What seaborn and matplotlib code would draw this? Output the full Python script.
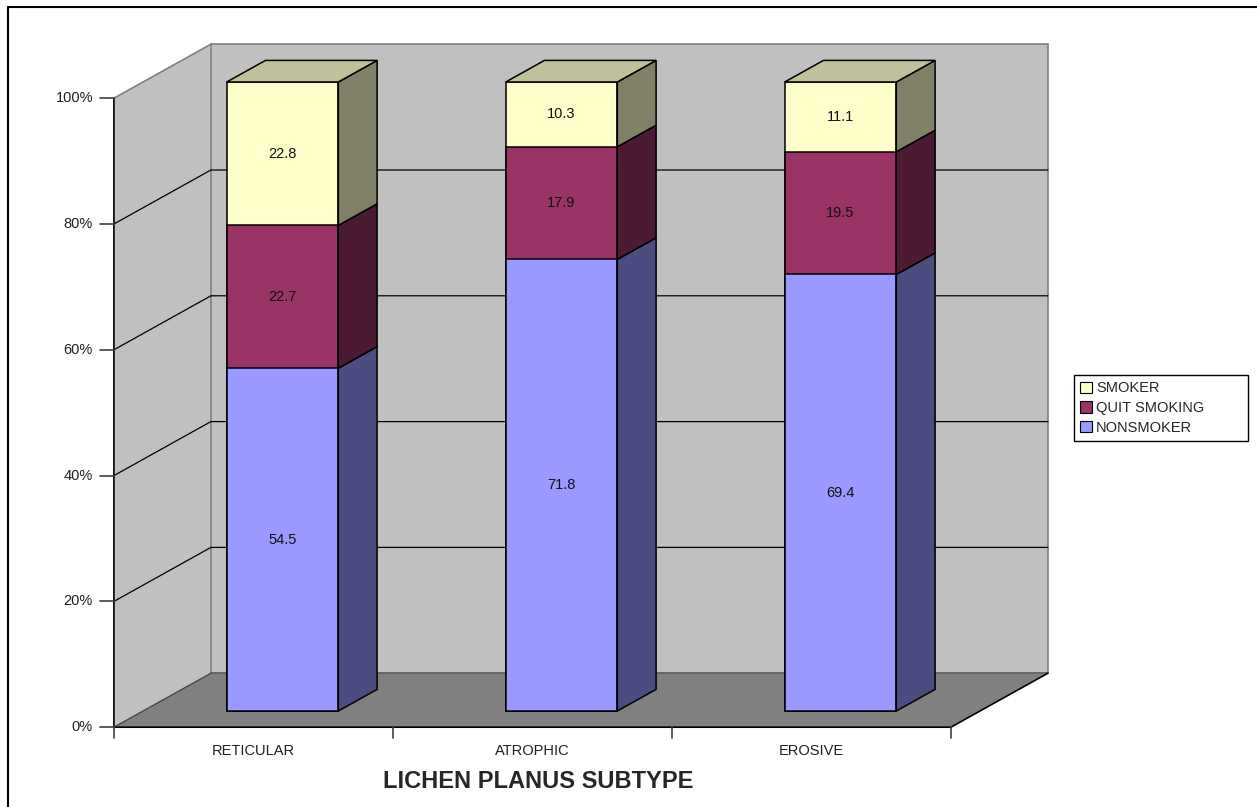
import matplotlib
matplotlib.use("Agg")
import numpy as np
import pandas as pd
import matplotlib.pyplot as plt
from matplotlib.patches import Polygon, Patch
from matplotlib.lines import Line2D
import seaborn as sns

# data
subtypes = ["RETICULAR", "ATROPHIC", "EROSIVE"]
nonsmoker = [54.5, 71.8, 69.4]
quit_smoking = [22.7, 17.9, 19.5]
smoker = [22.8, 10.3, 11.1]
series_names = ["NONSMOKER", "QUIT SMOKING", "SMOKER"]
y_ticks = [0, 20, 40, 60, 80, 100]
x_title = "LICHEN PLANUS SUBTYPE"

front_colors = ["#9999FF", "#993366", "#FFFFCC"]
side_colors = ["#4C4C80", "#4D1A33", "#808066"]
top_color = "#C0C09A"
wall_color = "#C0C0C0"
floor_color = "#808080"

sns.set_theme(style="white")
plt.rcParams["font.family"] = ["Liberation Sans", "DejaVu Sans"]

W, H = 1257, 807
fig = plt.figure(figsize=(W / 100, H / 100), dpi=100)
ax = fig.add_axes([0, 0, 1, 1])

# pixel geometry of the fake 3d box (bar front faces live in plain data coords)
X0, PX_X = 282.5, 279.0   # pixel column of category 0, px per category
Y0, PX_Y = 711.0, 6.29    # pixel row of 0% on the bar faces, px per percent
DX, DY = 97 / PX_X, 54 / PX_Y   # full depth of the box in data units
F_FRONT, F_BACK = 0.3, 0.7      # bar depth range (0 = front plane, 1 = back wall)


def P(x, y, d):
    return (x + (d - F_FRONT) * DX, y + (d - F_FRONT) * DY)


df = pd.DataFrame({"subtype": subtypes, "nonsmoker": nonsmoker,
                   "quit": quit_smoking, "smoker": smoker})
df["c1"] = df["nonsmoker"]
df["c2"] = df["c1"] + df["quit"]
df["c3"] = df["c2"] + df["smoker"]

# walls and floor
left, right = -0.5, len(subtypes) - 0.5
ax.add_patch(Polygon([P(left, 0, 0), P(left, 0, 1), P(left, 100, 1), P(left, 100, 0)],
                     closed=True, fc=wall_color, ec="none", zorder=0.2))
ax.add_patch(Polygon([P(left, 0, 1), P(right, 0, 1), P(right, 100, 1), P(left, 100, 1)],
                     closed=True, fc=wall_color, ec="#808080", lw=1.2, zorder=0.2))
ax.add_patch(Polygon([P(left, 0, 0), P(right, 0, 0), P(right, 0, 1), P(left, 0, 1)],
                     closed=True, fc=floor_color, ec="none", zorder=0.3))

for t in y_ticks[1:-1]:
    pts = [P(left, t, 0), P(left, t, 1), P(right, t, 1)]
    ax.plot([p[0] for p in pts], [p[1] for p in pts], color="black", lw=0.9, zorder=0.4)
pts = [P(left, 100, 0), P(left, 100, 1)]
ax.plot([p[0] for p in pts], [p[1] for p in pts], color="#808080", lw=1.2, zorder=0.4)
pts = [P(left, 0, 1), P(right, 0, 1)]
ax.plot([p[0] for p in pts], [p[1] for p in pts], color="#606060", lw=1.2, zorder=0.4)
pts = [P(left, 0, 0), P(left, 0, 1)]
ax.plot([p[0] for p in pts], [p[1] for p in pts], color="#404040", lw=0.9, zorder=0.4)
# front axis lines
pts = [P(left, 100, 0), P(left, 0, 0), P(right, 0, 0), P(right, 0, 1)]
ax.plot([p[0] for p in pts], [p[1] for p in pts], color="black", lw=1.2, zorder=0.5)

# y ticks on the front edge
for t in y_ticks:
    x, y = P(left, t, 0)
    ax.plot([x - 14 / PX_X, x], [y, y], color="#404040", lw=1.2, zorder=0.5)
    ax.text(x - 21 / PX_X, y, f"{t}%", ha="right", va="center", fontsize=10.5, color="#202020")

# x ticks and category labels
for b in np.arange(len(subtypes) + 1) - 0.5:
    x, y = P(b, 0, 0)
    ax.plot([x, x], [y, y - 11 / PX_Y], color="#404040", lw=1.2, zorder=0.5)
for i, name in enumerate(subtypes):
    x, y = P(i, 0, 0)
    ax.text(x, y - 24 / PX_Y, name, ha="center", va="center", fontsize=10.5, color="#202020")

# bar front faces: cumulative totals drawn back to front
for col, c in zip(["c3", "c2", "c1"], front_colors[::-1]):
    sns.barplot(data=df, x="subtype", y=col, color=c, saturation=1, width=0.4,
                edgecolor="black", linewidth=1.1, ax=ax, zorder=3)

bw = ax.patches[-1].get_width()
series = [nonsmoker, quit_smoking, smoker]
for i in range(len(subtypes)):
    bottom = 0
    xl, xr = i - bw / 2, i + bw / 2
    for k, vals in enumerate(series):
        top = bottom + vals[i]
        ax.add_patch(Polygon([P(xr, bottom, F_FRONT), P(xr, bottom, F_BACK),
                              P(xr, top, F_BACK), P(xr, top, F_FRONT)],
                             closed=True, fc=side_colors[k], ec="black", lw=1.1, zorder=3))
        ax.text(i, bottom + vals[i] / 2, f"{vals[i]}", ha="center", va="center",
                fontsize=10.5, color="#111111", zorder=5)
        bottom = top
    ax.add_patch(Polygon([P(xl, bottom, F_FRONT), P(xr, bottom, F_FRONT),
                          P(xr, bottom, F_BACK), P(xl, bottom, F_BACK)],
                         closed=True, fc=top_color, ec="black", lw=1.1, zorder=3))

ax.set_xlim(-X0 / PX_X, (W - X0) / PX_X)
ax.set_ylim((Y0 - H) / PX_Y, Y0 / PX_Y)
ax.set_axis_off()

# legend
handles = [Patch(fc=front_colors[k], ec="black", lw=0.8) for k in [2, 1, 0]]
labels = [series_names[k] for k in [2, 1, 0]]
leg = ax.legend(handles, labels, loc="center left", mode="expand",
                bbox_to_anchor=(1074 / W, 1 - 443 / H, 174 / W, 70 / H),
                bbox_transform=fig.transFigure, frameon=True, fancybox=False,
                edgecolor="black", framealpha=1, fontsize=10.5, handlelength=0.8,
                handleheight=0.8, handletextpad=0.3, labelspacing=0.4, borderpad=0.4,
                borderaxespad=0)
leg.get_frame().set_linewidth(1)

fig.text(538 / W, 1 - 782 / H, x_title, ha="center", va="center", fontsize=17,
         fontweight="bold", family=["Liberation Sans Narrow", "Liberation Sans", "DejaVu Sans"])

# outer frame (only top and left visible in the crop)
fig.add_artist(Line2D([8 / W, 8 / W], [0, 1 - 7 / H], transform=fig.transFigure, color="black", lw=1.5))
fig.add_artist(Line2D([8 / W, 1], [1 - 7 / H, 1 - 7 / H], transform=fig.transFigure, color="black", lw=1.5))

fig.savefig("out.png", dpi=100)
